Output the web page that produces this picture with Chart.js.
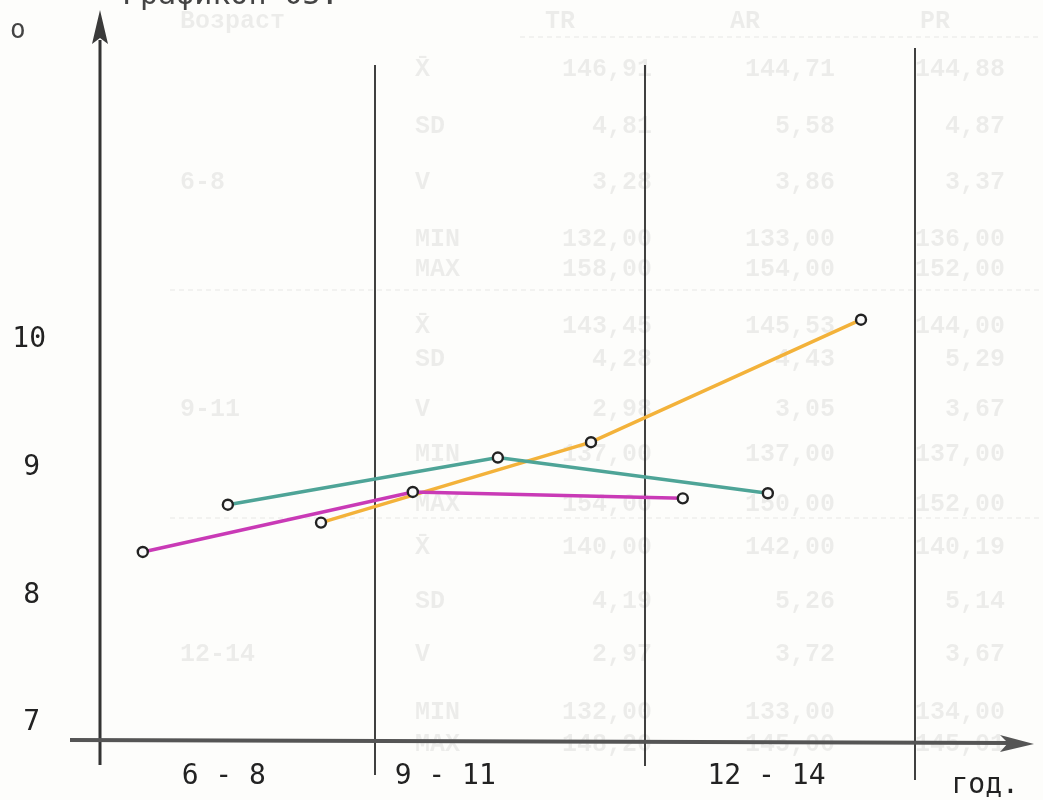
<!DOCTYPE html>
<html>
<head>
<meta charset="utf-8">
<script src="https://cdn.jsdelivr.net/npm/chart.js@4/dist/chart.umd.min.js"></script>
<style>
  html, body { margin: 0; padding: 0; background: #fdfdfb; }
  #wrap { width: 1043px; height: 800px; position: relative; }
</style>
</head>
<body>
<div id="wrap"><canvas id="c"></canvas></div>
<script>
// age groups (x: group index), y values
const groups = ['6 - 8', '9 - 11', '12 - 14'];
const magentaVals = [8.34, 8.81, 8.76];
const tealVals = [8.71, 9.08, 8.80];
const orangeVals = [8.57, 9.20, 10.16];

const yTicks = [7, 8, 9, 10];
const xTickPos = [0.44, 1.26, 2.45, 3.26];
const xTickLabels = ['6 - 8', '9 - 11', '12 - 14', 'год.'];

// faint table showing through the page
const tableHead = ['Возраст', 'TR', 'AR', 'PR'];
const tableRows = [
  ['X̄', '146,91', '144,71', '144,88'],
  ['SD', '4,81', '5,58', '4,87'],
  ['V', '3,28', '3,86', '3,37'],
  ['MIN', '132,00', '133,00', '136,00'],
  ['MAX', '158,00', '154,00', '152,00'],
  ['X̄', '143,45', '145,53', '144,00'],
  ['SD', '4,28', '4,43', '5,29'],
  ['V', '2,98', '3,05', '3,67'],
  ['MIN', '137,00', '137,00', '137,00'],
  ['MAX', '154,00', '150,00', '152,00'],
  ['X̄', '140,00', '142,00', '140,19'],
  ['SD', '4,19', '5,26', '5,14'],
  ['V', '2,97', '3,72', '3,67'],
  ['MIN', '132,00', '133,00', '134,00'],
  ['MAX', '148,20', '145,00', '145,01']
];
const tableGroups = ['6-8', '9-11', '12-14'];

function series(vals, offset) {
  return vals.map((v, i) => ({ x: i + offset, y: v }));
}

const mono = '"DejaVu Sans Mono", "Liberation Mono", monospace';

const decor = {
  id: 'decor',
  beforeDatasetsDraw(chart) {
    const ctx = chart.ctx;
    const xs = chart.scales.x;
    const ys = chart.scales.y;
    ctx.save();
    // ghost table
    ctx.fillStyle = 'rgba(0,0,0,0.065)';
    ctx.font = 'bold 25px "Liberation Mono", monospace';
    ctx.textBaseline = 'middle';
    ctx.textAlign = 'left';
    ctx.fillText(tableHead[0], 180, 22);
    ctx.textAlign = 'center';
    ctx.fillText(tableHead[1], 560, 22);
    ctx.fillText(tableHead[2], 745, 22);
    ctx.fillText(tableHead[3], 935, 22);
    const rowY = [70, 127, 183, 240, 270, 327, 360, 410, 455, 505, 548, 602, 655, 713, 745];
    tableRows.forEach((r, i) => {
      ctx.textAlign = 'left';
      ctx.fillText(r[0], 415, rowY[i]);
      ctx.textAlign = 'right';
      ctx.fillText(r[1], 652, rowY[i]);
      ctx.fillText(r[2], 835, rowY[i]);
      ctx.fillText(r[3], 1005, rowY[i]);
    });
    ctx.textAlign = 'left';
    ctx.fillText(tableGroups[0], 180, 183);
    ctx.fillText(tableGroups[1], 180, 410);
    ctx.fillText(tableGroups[2], 180, 655);
    ctx.strokeStyle = 'rgba(0,0,0,0.06)';
    ctx.lineWidth = 1.5;
    ctx.setLineDash([5, 4]);
    [[520, 37], [170, 290], [170, 518]].forEach(([x0, y]) => {
      ctx.beginPath(); ctx.moveTo(x0, y); ctx.lineTo(1040, y); ctx.stroke();
    });
    ctx.setLineDash([]);

    // title cut off at the top and the "o"
    ctx.fillStyle = '#444';
    ctx.font = '30px ' + mono;
    ctx.textAlign = 'left';
    ctx.textBaseline = 'alphabetic';
    ctx.fillText('Графикон 03:', 122, 4);
    ctx.font = '26px ' + mono;
    ctx.fillText('o', 10, 38);

    // tick labels
    ctx.fillStyle = '#222';
    ctx.font = '28px ' + mono;
    ctx.textAlign = 'right';
    ctx.textBaseline = 'middle';
    yTicks.forEach(v => ctx.fillText(String(v), v === 10 ? 46 : 40, ys.getPixelForValue(v)));
    ctx.textAlign = 'center';
    xTickPos.forEach((v, i) => {
      ctx.fillText(xTickLabels[i], xs.getPixelForValue(v), i === 3 ? 786 : 777);
    });

    // group separators
    ctx.strokeStyle = '#111';
    ctx.lineWidth = 1.6;
    [[1, 65, 775], [2, 65, 766], [3, 48, 780]].forEach(([v, t, b]) => {
      const px = xs.getPixelForValue(v);
      ctx.beginPath(); ctx.moveTo(px, t); ctx.lineTo(px, b); ctx.stroke();
    });

    // y axis with arrow
    const ax = 100;
    ctx.strokeStyle = '#333';
    ctx.lineWidth = 3;
    ctx.beginPath(); ctx.moveTo(ax, 765); ctx.lineTo(ax, 40); ctx.stroke();
    ctx.fillStyle = '#3a3a3a';
    ctx.beginPath();
    ctx.moveTo(ax, 10); ctx.lineTo(ax + 8, 44); ctx.lineTo(ax, 38); ctx.lineTo(ax - 8, 44);
    ctx.closePath(); ctx.fill();

    // x axis with arrow
    ctx.strokeStyle = '#555';
    ctx.lineWidth = 4;
    ctx.beginPath(); ctx.moveTo(70, 740); ctx.lineTo(1015, 743); ctx.stroke();
    ctx.fillStyle = '#555';
    ctx.beginPath();
    ctx.moveTo(1034, 744); ctx.lineTo(1000, 735); ctx.lineTo(1008, 743); ctx.lineTo(1000, 752);
    ctx.closePath(); ctx.fill();
    ctx.restore();
  }
};

const pointStyle = {
  pointRadius: 5,
  pointBorderWidth: 2.4,
  pointBorderColor: '#222',
  pointBackgroundColor: '#fafafa',
  borderWidth: 3.5,
  tension: 0,
  fill: false
};

new Chart(document.getElementById('c'), {
  type: 'scatter',
  data: {
    datasets: [
      { label: 'magenta', data: series(magentaVals, 0.14), borderColor: '#c93ab6', showLine: true, ...pointStyle },
      { label: 'teal', data: series(tealVals, 0.455), borderColor: '#4ea497', showLine: true, ...pointStyle },
      { label: 'orange', data: series(orangeVals, 0.80), borderColor: '#f3b23a', showLine: true, ...pointStyle }
    ]
  },
  options: {
    responsive: true,
    maintainAspectRatio: false,
    animation: false,
    layout: { padding: { top: 30, right: 20, left: 105, bottom: 38 } },
    plugins: { legend: { display: false }, tooltip: { enabled: false } },
    scales: {
      x: { type: 'linear', display: false, min: 0, max: 3.4 },
      y: { type: 'linear', display: false, min: 6.694, max: 12.43 }
    }
  },
  plugins: [decor]
});
</script>
</body>
</html>
